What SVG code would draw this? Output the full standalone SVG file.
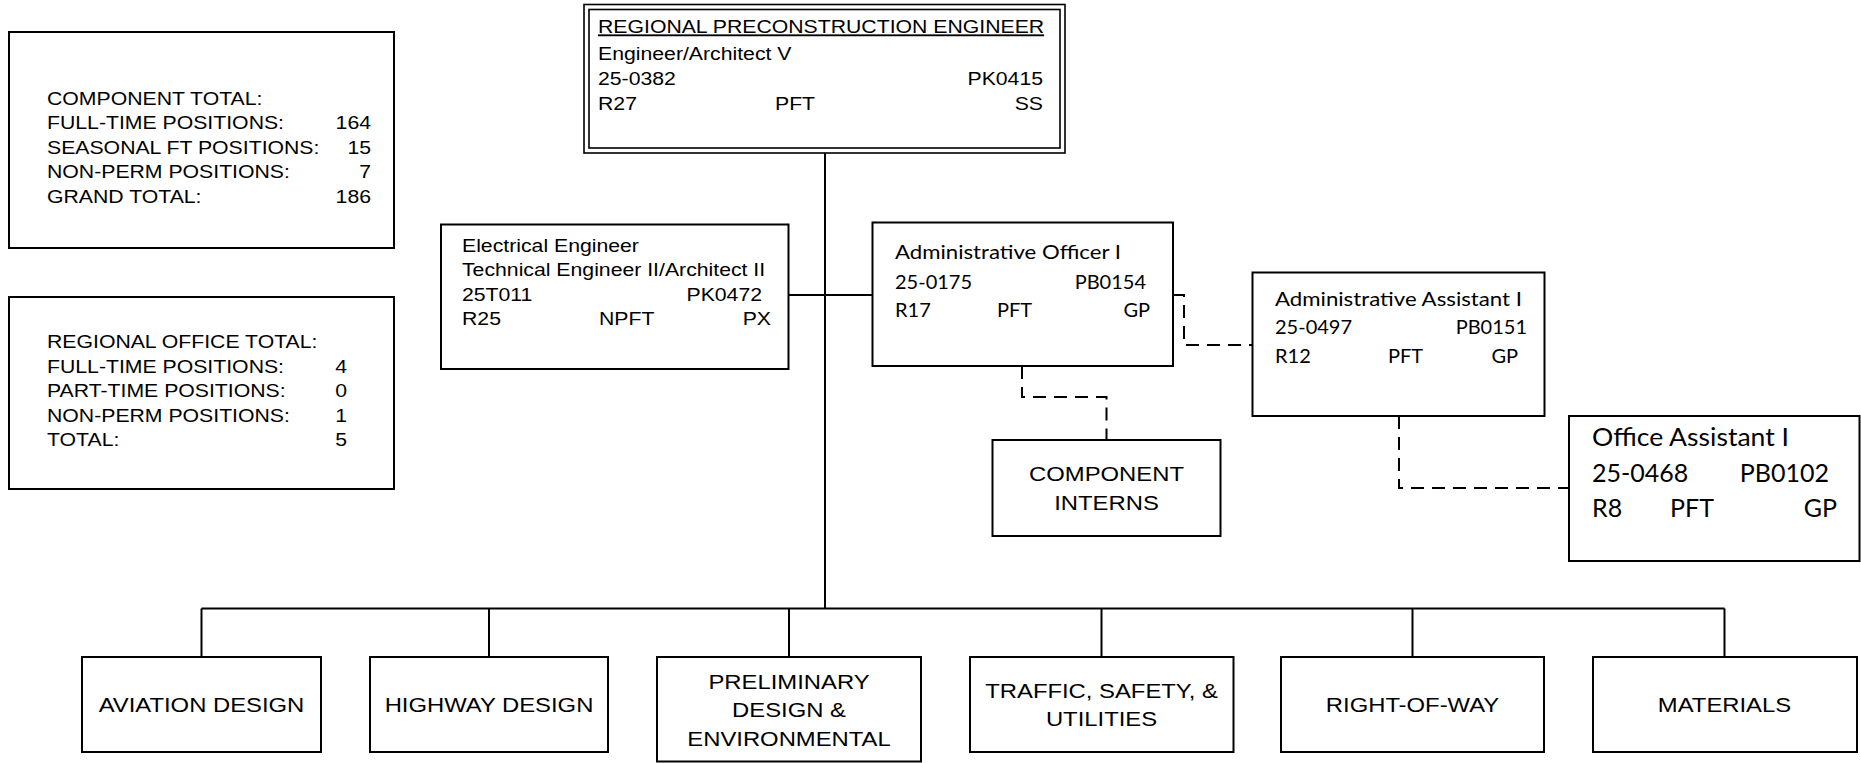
<svg xmlns="http://www.w3.org/2000/svg" width="1861" height="763" viewBox="0 0 1861 763">
<style>
rect{fill:#fff;stroke:#000;stroke-width:2}
.a{font-family:"Liberation Sans",Arial,sans-serif;font-size:18.7px;fill:#000}
.ab{font-family:"Liberation Sans",Arial,sans-serif;font-size:21px;fill:#000;text-anchor:middle}
.c{font-family:Lato,"Open Sans",sans-serif;font-size:20px;fill:#000}
.cl{font-family:Lato,"Open Sans",sans-serif;font-size:25px;fill:#000}
.e{text-anchor:end}
.ln{fill:none;stroke:#000;stroke-width:2}
.ds{fill:none;stroke:#000;stroke-width:2;stroke-dasharray:13 8}
</style>
<rect width="1861" height="763" style="fill:#fff;stroke:none"/>
<g id="connectors">
<path class="ln" d="M825,153 V608.5"/>
<path class="ln" d="M788.5,295 H872.5"/>
<path class="ln" d="M201.5,608.5 H1724.5"/>
<path class="ln" d="M201.5,608.5 V657 M489,608.5 V657 M789,608.5 V657 M1101.5,608.5 V657 M1412.5,608.5 V657 M1724.5,608.5 V657"/>
<path class="ds" d="M1173,295 H1184 V345 H1252.5"/>
<path class="ds" d="M1022,366 V397 H1106.5 V440"/>
<path class="ds" d="M1399,416 V488 H1569"/>
</g>
<g id="component-total">
<rect x="9" y="32" width="385" height="216"/>
<text class="a" transform="translate(47,105) scale(1.135,1)">COMPONENT TOTAL:</text>
<text class="a" transform="translate(47,129.4) scale(1.135,1)">FULL-TIME POSITIONS:</text>
<text class="a e" transform="translate(371,129.4) scale(1.135,1)">164</text>
<text class="a" transform="translate(47,153.8) scale(1.135,1)">SEASONAL FT POSITIONS:</text>
<text class="a e" transform="translate(371,153.8) scale(1.135,1)">15</text>
<text class="a" transform="translate(47,178.2) scale(1.135,1)">NON-PERM POSITIONS:</text>
<text class="a e" transform="translate(371,178.2) scale(1.135,1)">7</text>
<text class="a" transform="translate(47,202.6) scale(1.135,1)">GRAND TOTAL:</text>
<text class="a e" transform="translate(371,202.6) scale(1.135,1)">186</text>
</g>
<g id="regional-office-total">
<rect x="9" y="297" width="385" height="192"/>
<text class="a" transform="translate(47,348) scale(1.135,1)">REGIONAL OFFICE TOTAL:</text>
<text class="a" transform="translate(47,372.5) scale(1.135,1)">FULL-TIME POSITIONS:</text>
<text class="a e" transform="translate(347,372.5) scale(1.135,1)">4</text>
<text class="a" transform="translate(47,397) scale(1.135,1)">PART-TIME POSITIONS:</text>
<text class="a e" transform="translate(347,397) scale(1.135,1)">0</text>
<text class="a" transform="translate(47,421.5) scale(1.135,1)">NON-PERM POSITIONS:</text>
<text class="a e" transform="translate(347,421.5) scale(1.135,1)">1</text>
<text class="a" transform="translate(47,446) scale(1.135,1)">TOTAL:</text>
<text class="a e" transform="translate(347,446) scale(1.135,1)">5</text>
</g>
<g id="regional-preconstruction-engineer">
<rect x="584" y="4.5" width="481" height="148.5" style="stroke-width:1.6"/>
<rect x="589" y="9.5" width="471" height="138.5" style="stroke-width:1.6"/>
<text class="a" transform="translate(598,32.5) scale(1.135,1)" text-decoration="underline">REGIONAL PRECONSTRUCTION ENGINEER</text>
<text class="a" transform="translate(598,60) scale(1.135,1)">Engineer/Architect V</text>
<text class="a" transform="translate(598,85) scale(1.135,1)">25-0382</text>
<text class="a e" transform="translate(1043,85) scale(1.135,1)">PK0415</text>
<text class="a" transform="translate(598,110) scale(1.135,1)">R27</text>
<text class="a" transform="translate(775,110) scale(1.135,1)">PFT</text>
<text class="a e" transform="translate(1043,110) scale(1.135,1)">SS</text>
</g>
<g id="electrical-engineer">
<rect x="441" y="224.5" width="347.5" height="144.5"/>
<text class="a" transform="translate(462,251.5) scale(1.135,1)">Electrical Engineer</text>
<text class="a" transform="translate(462,276) scale(1.135,1)">Technical Engineer II/Architect II</text>
<text class="a" transform="translate(462,300.5) scale(1.135,1)">25T011</text>
<text class="a e" transform="translate(762,300.5) scale(1.135,1)">PK0472</text>
<text class="a" transform="translate(462,325) scale(1.135,1)">R25</text>
<text class="a" transform="translate(599,325) scale(1.135,1)">NPFT</text>
<text class="a e" transform="translate(771,325) scale(1.135,1)">PX</text>
</g>
<g id="administrative-officer">
<rect x="872.5" y="222.5" width="300.5" height="143.5"/>
<text class="c" x="895" y="259" textLength="226" lengthAdjust="spacingAndGlyphs">Administrative Officer I</text>
<text class="c" x="895" y="288.5">25-0175</text>
<text class="c e" x="1146" y="288.5">PB0154</text>
<text class="c" x="895" y="317">R17</text>
<text class="c" x="997" y="317">PFT</text>
<text class="c e" x="1150" y="317">GP</text>
</g>
<g id="administrative-assistant">
<rect x="1252.5" y="272.5" width="292" height="143.5"/>
<text class="c" x="1275" y="305.5" textLength="247" lengthAdjust="spacingAndGlyphs">Administrative Assistant I</text>
<text class="c" x="1275" y="334">25-0497</text>
<text class="c e" x="1527" y="334">PB0151</text>
<text class="c" x="1275" y="362.5">R12</text>
<text class="c" x="1388" y="362.5">PFT</text>
<text class="c e" x="1518" y="362.5">GP</text>
</g>
<g id="office-assistant">
<rect x="1569" y="416" width="290.5" height="145"/>
<text class="cl" x="1592" y="445.5" textLength="197" lengthAdjust="spacingAndGlyphs">Office Assistant I</text>
<text class="cl" x="1592" y="481.5">25-0468</text>
<text class="cl e" x="1829" y="481.5">PB0102</text>
<text class="cl" x="1592" y="516.5">R8</text>
<text class="cl" x="1670" y="516.5">PFT</text>
<text class="cl e" x="1837" y="516.5">GP</text>
</g>
<g id="component-interns">
<rect x="992.5" y="440" width="228" height="96"/>
<text class="ab" transform="translate(1106.5,481) scale(1.135,1)">COMPONENT</text>
<text class="ab" transform="translate(1106.5,509.5) scale(1.135,1)">INTERNS</text>
</g>
<g id="aviation-design">
<rect x="82" y="657" width="239" height="95"/>
<text class="ab" transform="translate(201.5,711.5) scale(1.135,1)">AVIATION DESIGN</text>
</g>
<g id="highway-design">
<rect x="370" y="657" width="238" height="95"/>
<text class="ab" transform="translate(489,711.5) scale(1.135,1)">HIGHWAY DESIGN</text>
</g>
<g id="preliminary-design">
<rect x="657" y="657" width="264" height="104.5"/>
<text class="ab" transform="translate(789,689) scale(1.135,1)">PRELIMINARY</text>
<text class="ab" transform="translate(789,717) scale(1.135,1)">DESIGN &amp;</text>
<text class="ab" transform="translate(789,745.5) scale(1.135,1)">ENVIRONMENTAL</text>
</g>
<g id="traffic-safety-utilities">
<rect x="970" y="657" width="263.5" height="95"/>
<text class="ab" transform="translate(1101.5,698) scale(1.135,1)">TRAFFIC, SAFETY, &amp;</text>
<text class="ab" transform="translate(1101.5,725.5) scale(1.135,1)">UTILITIES</text>
</g>
<g id="right-of-way">
<rect x="1281" y="657" width="263" height="95"/>
<text class="ab" transform="translate(1412.5,711.5) scale(1.135,1)">RIGHT-OF-WAY</text>
</g>
<g id="materials">
<rect x="1593" y="657" width="264" height="95"/>
<text class="ab" transform="translate(1724.5,711.5) scale(1.135,1)">MATERIALS</text>
</g>
</svg>
